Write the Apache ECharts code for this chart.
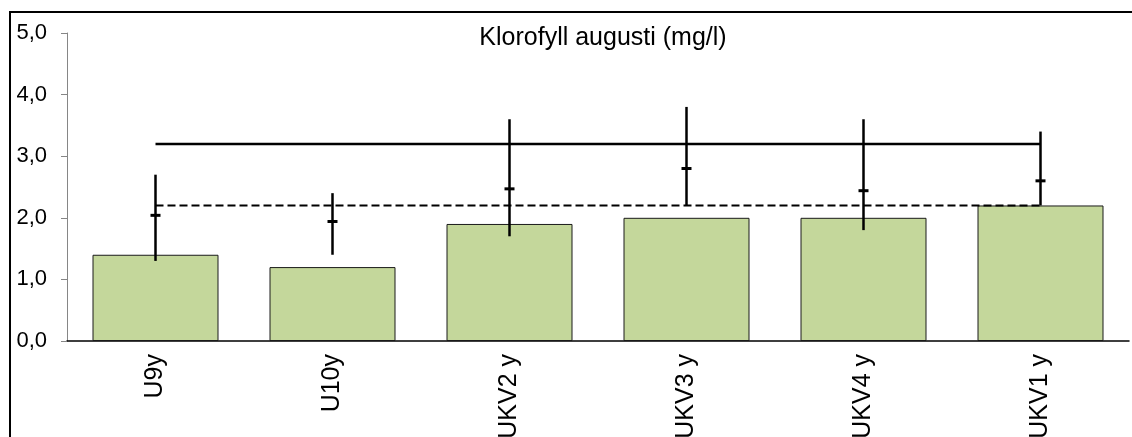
<!DOCTYPE html>
<html>
<head>
<meta charset="utf-8">
<script src="https://cdn.jsdelivr.net/npm/echarts@6/dist/echarts.min.js"></script>
<style>
html,body{margin:0;padding:0;background:#fff;}
#chart{width:1132px;height:437px;}
</style>
</head>
<body>
<div id="chart"></div>
<script>
// data
var categories = ['U9y', 'U10y', 'UKV2 y', 'UKV3 y', 'UKV4 y', 'UKV1 y'];
var barValues = [1.4, 1.2, 1.9, 2.0, 2.0, 2.2];
var errLow = [1.3, 1.4, 1.7, 2.2, 1.8, 2.2];
var errHigh = [2.7, 2.4, 3.6, 3.8, 3.6, 3.4];
var errMean = [2.04, 1.94, 2.47, 2.8, 2.44, 2.6];
var solidLine = [3.2, 3.2, 3.2, 3.2, 3.2, 3.2];
var dashedLine = [2.2, 2.2, 2.2, 2.2, 2.2, 2.2];
var yTicks = [0, 1, 2, 3, 4, 5];

var font = '"Liberation Sans", Arial, sans-serif';

var errData = categories.map(function (c, i) {
	return [i, errLow[i], errHigh[i], errMean[i]];
});

var myChart = echarts.init(document.getElementById('chart'));
var option = {
	animation: false,
	backgroundColor: '#fff',
	title: {
		text: 'Klorofyll augusti (mg/l)',
		left: 598,
		top: 21,
		textAlign: 'center',
		textStyle: {fontFamily: font, fontSize: 25, fontWeight: 'normal', color: '#000'}
	},
	graphic: [
		{
			type: 'rect',
			shape: {x: 10, y: 12, width: 1300, height: 600},
			style: {fill: 'none', stroke: '#000', lineWidth: 2},
			silent: true,
			z: 100
		}
	],
	grid: {
		left: 67,
		right: 3,
		top: 33,
		bottom: 96,
		containLabel: false,
		outerBoundsMode: 'none'
	},
	xAxis: {
		type: 'category',
		data: categories,
		axisTick: {show: false},
		axisLine: {lineStyle: {color: '#000', width: 1.5}},
		axisLabel: {
			rotate: 90,
			margin: 13,
			fontFamily: font,
			fontSize: 25,
			color: '#000'
		}
	},
	yAxis: {
		type: 'value',
		min: yTicks[0],
		max: yTicks[yTicks.length - 1],
		interval: 1,
		splitLine: {show: false},
		axisLine: {show: true, lineStyle: {color: '#868686', width: 1}},
		axisTick: {show: true, length: 6, lineStyle: {color: '#868686'}},
		axisLabel: {
			margin: 20,
			fontFamily: font,
			fontSize: 22,
			color: '#000',
			formatter: function (v) { return v.toFixed(1).replace('.', ','); }
		}
	},
	series: [
		{
			type: 'bar',
			data: barValues,
			barWidth: 126,
			itemStyle: {color: '#c4d79b', borderColor: '#1a1a1a', borderWidth: 1},
			z: 2
		},
		{
			type: 'line',
			data: solidLine,
			symbol: 'none',
			lineStyle: {color: '#000', width: 2.5},
			z: 3
		},
		{
			type: 'line',
			data: dashedLine,
			symbol: 'none',
			lineStyle: {color: '#000', width: 2, type: [8, 4]},
			z: 3
		},
		{
			type: 'custom',
			data: errData,
			z: 4,
			renderItem: function (params, api) {
				var i = api.value(0);
				var lo = api.coord([i, api.value(1)]);
				var hi = api.coord([i, api.value(2)]);
				var mid = api.coord([i, api.value(3)]);
				return {
					type: 'group',
					children: [
						{
							type: 'line',
							shape: {x1: lo[0], y1: lo[1], x2: hi[0], y2: hi[1]},
							style: {stroke: '#000', lineWidth: 2.5}
						},
						{
							type: 'line',
							shape: {x1: mid[0] - 5, y1: mid[1], x2: mid[0] + 5, y2: mid[1]},
							style: {stroke: '#000', lineWidth: 3}
						}
					]
				};
			}
		}
	]
};

myChart.setOption(option);
window.onresize = myChart.resize;
</script>
</body>
</html>
